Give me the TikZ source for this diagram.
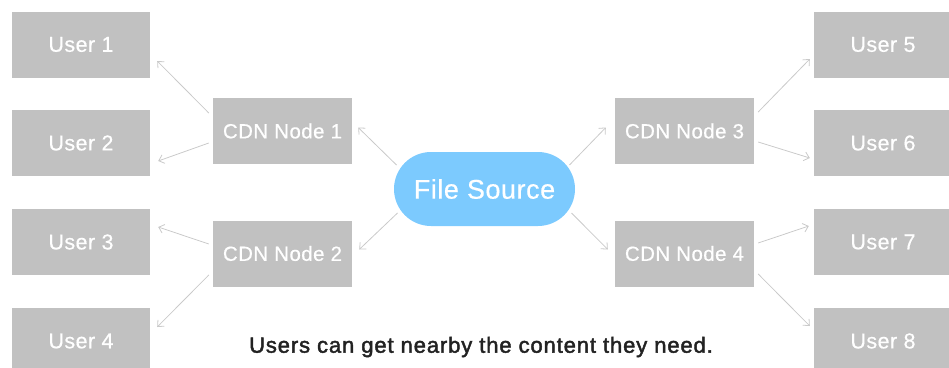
\documentclass[tikz,border=0pt]{standalone}
\usepackage{fontspec}
\setmainfont{Liberation Sans}
\newfontfamily\labelfont[FakeBold=0.5, LetterSpace=2]{Liberation Sans}
\newfontfamily\capfont[FakeBold=2, LetterSpace=4]{Liberation Sans}
\usetikzlibrary{arrows.meta}
\definecolor{boxgray}{HTML}{C1C1C1}
\definecolor{srcblue}{HTML}{7CCAFE}
\definecolor{linkgray}{HTML}{CACACA}
\definecolor{captext}{HTML}{222222}
\tikzset{
  userbox/.style={fill=boxgray, draw=none, minimum width=138pt, minimum height=66pt,
    inner sep=0pt, text=white, font=\labelfont\fontsize{21.5}{25}\selectfont},
  cdnbox/.style={fill=boxgray, draw=none, minimum width=139pt, minimum height=66pt,
    inner sep=0pt, text=white, font=\labelfont\fontsize{20.5}{25}\selectfont},
  sourcebox/.style={fill=srcblue, draw=none, minimum width=181pt, minimum height=74pt,
    rounded corners=37pt, inner sep=0pt, text=white, font=\labelfont\fontsize{27}{32}\selectfont},
  link/.style={draw=linkgray, line width=0.8pt,
    -{Straight Barb[length=5pt,width=9pt,line width=0.8pt]}},
}
\begin{document}
\begin{tikzpicture}[x=1pt, y=-1pt]
  \useasboundingbox (0,0) rectangle (949,367);

  % users on the left
  \node[userbox] (u1) at (81,44.5) {User 1};
  \node[userbox] (u2) at (81,143) {User 2};
  \node[userbox] (u3) at (81,242) {User 3};
  \node[userbox] (u4) at (81,341) {User 4};
  % users on the right
  \node[userbox] (u5) at (883,44.5) {User 5};
  \node[userbox] (u6) at (883,143) {User 6};
  \node[userbox] (u7) at (883,242) {User 7};
  \node[userbox] (u8) at (883,341) {User 8};

  % edge servers
  \node[cdnbox] (c1) at (282.5,131) {CDN Node 1};
  \node[cdnbox] (c2) at (282.5,253.5) {CDN Node 2};
  \node[cdnbox] (c3) at (684.5,131) {CDN Node 3};
  \node[cdnbox] (c4) at (684.5,253.5) {CDN Node 4};

  % origin
  \node[sourcebox] (src) at (484.5,189) {File Source};

  % origin to edge servers
  \draw[link] ([shift={(-88,-24)}]src.center) -- ([shift={(6,-3.5)}]c1.east);
  \draw[link] ([shift={(-87,24)}]src.center) -- ([shift={(7,-4)}]c2.east);
  \draw[link] ([shift={(85,-24)}]src.center) -- ([shift={(-9,-3.5)}]c3.west);
  \draw[link] ([shift={(87,24)}]src.center) -- ([shift={(-7,-4)}]c4.west);

  % edge servers to users
  \draw[link] ([shift={(-4,-18)}]c1.west) -- ([shift={(7,16.5)}]u1.east);
  \draw[link] ([shift={(-4,12)}]c1.west) -- ([shift={(8,18)}]u2.east);
  \draw[link] ([shift={(-4,-9.5)}]c2.west) -- ([shift={(8,-15)}]u3.east);
  \draw[link] ([shift={(-4,21.5)}]c2.west) -- ([shift={(7,-14)}]u4.east);
  \draw[link] ([shift={(4,-19)}]c3.east) -- ([shift={(-4,14.5)}]u5.west);
  \draw[link] ([shift={(4,11)}]c3.east) -- ([shift={(-4,15)}]u6.west);
  \draw[link] ([shift={(4,-10.5)}]c4.east) -- ([shift={(-5,-16)}]u7.west);
  \draw[link] ([shift={(4,20.5)}]c4.east) -- ([shift={(-4,-15)}]u8.west);

  % caption
  \node[text=captext, font=\capfont\fontsize{22}{26}\selectfont, inner sep=0pt]
    (cap) at (481,347) {Users can get nearby the content they need.};
\end{tikzpicture}
\end{document}
